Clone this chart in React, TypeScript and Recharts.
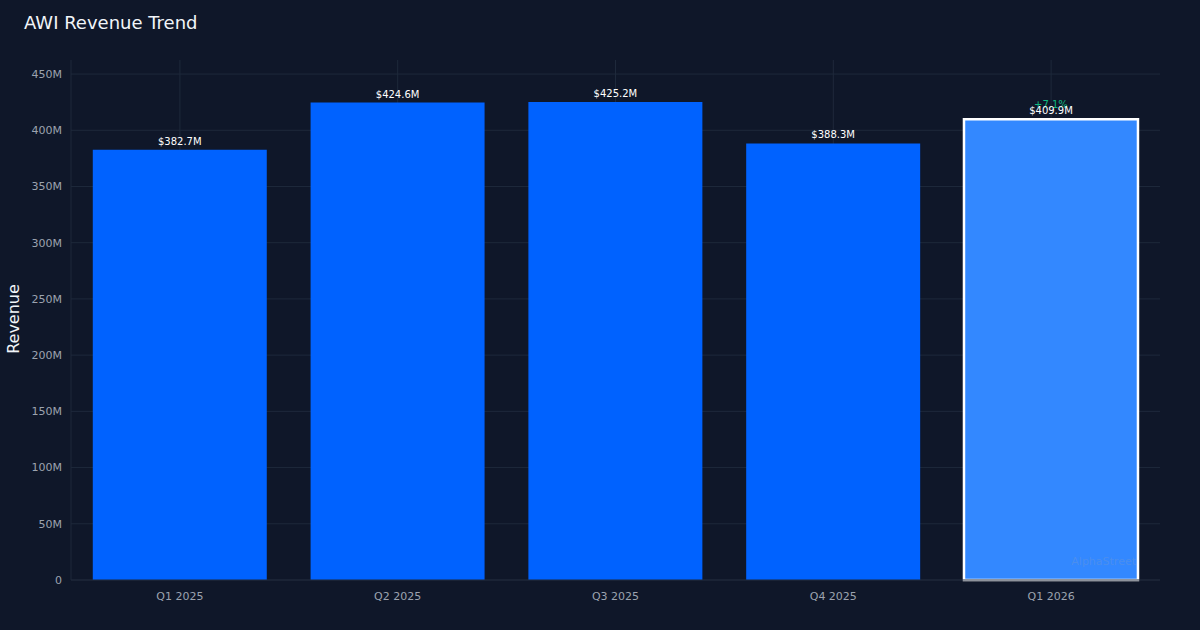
import React from 'react';
import { BarChart, Bar, XAxis, YAxis, CartesianGrid, Cell, LabelList } from 'recharts';

const categories = ['Q1 2025', 'Q2 2025', 'Q3 2025', 'Q4 2025', 'Q1 2026'];
const revenue = [382.7, 424.6, 425.2, 388.3, 409.9];
const yTicks = [0, 50, 100, 150, 200, 250, 300, 350, 400, 450];
const yMax = 462.5;
const highlightIndex = 4;
const changeLabel = '+7.1%';

const data = categories.map((q, i) => ({ q, v: revenue[i] }));

const BG = '#0f1729';
const GRID = '#1e293b';
const TICK = '#9ca3af';

const ValueLabel = (props: any) => {
  const { x, y, width, value, index } = props;
  const cx = x + width / 2;
  return (
    <g>
      {index === highlightIndex && (
        <text x={cx} y={y - 11} textAnchor="middle" fill="#10b981" fontSize={10} fontFamily="DejaVu Sans">
          {changeLabel}
        </text>
      )}
      <text x={cx} y={y - 5} textAnchor="middle" fill="#ffffff" fontSize={10} fontFamily="DejaVu Sans">
        {`$${Number(value).toFixed(1)}M`}
      </text>
    </g>
  );
};

const vGen = (p: any) => {
  const off = p.offset;
  return categories.map((_, i) => off.left + (off.width * (i + 0.5)) / categories.length);
};
const hGen = (p: any) => {
  const off = p.offset;
  return yTicks.map((t) => off.top + off.height * (1 - t / yMax));
};

export default function App() {
  return (
    <div style={{ position: 'absolute', left: 0, top: 0, width: 1200, height: 630, background: BG, fontFamily: 'DejaVu Sans' }}>
      <div style={{ position: 'absolute', left: 24, top: 12, color: '#f1f5f9', fontSize: 18, fontFamily: 'DejaVu Sans' }}>
        AWI Revenue Trend
      </div>
      <div
        style={{
          position: 'absolute',
          left: 13,
          top: 319,
          transform: 'translate(-50%, -50%) rotate(-90deg)',
          color: '#f1f5f9',
          fontSize: 16,
          fontFamily: 'DejaVu Sans',
          whiteSpace: 'nowrap',
        }}
      >
        Revenue
      </div>
      <BarChart
        width={1200}
        height={630}
        data={data}
        margin={{ top: 60, right: 40, bottom: 20, left: 1 }}
        barCategoryGap="10%"
      >
        <CartesianGrid
          stroke={GRID}
          strokeWidth={1}
          verticalCoordinatesGenerator={vGen}
          horizontalCoordinatesGenerator={hGen}
        />
        <XAxis
          dataKey="q"
          height={30}
          tickLine={false}
          axisLine={{ stroke: GRID }}
          tick={{ fill: TICK, fontSize: 11, fontFamily: 'DejaVu Sans' }}
          tickMargin={6}
        />
        <YAxis
          width={70}
          domain={[0, yMax]}
          ticks={yTicks}
          tickLine={false}
          axisLine={{ stroke: GRID }}
          tick={{ fill: TICK, fontSize: 11, fontFamily: 'DejaVu Sans' }}
          tickFormatter={(v: number) => (v === 0 ? '0' : `${v}M`)}
          tickMargin={3}
        />
        <Bar dataKey="v" isAnimationActive={false}>
          {data.map((d, i) => (
            <Cell
              key={d.q}
              fill={i === highlightIndex ? '#3388ff' : '#0062ff'}
              stroke={i === highlightIndex ? '#ffffff' : 'none'}
              strokeWidth={i === highlightIndex ? 2.5 : 0}
            />
          ))}
          <LabelList dataKey="v" content={ValueLabel} />
        </Bar>
      </BarChart>
      <div
        style={{
          position: 'absolute',
          right: 64,
          top: 555,
          color: 'rgba(148,163,184,0.25)',
          fontSize: 11,
          fontFamily: 'DejaVu Sans',
        }}
      >
        AlphaStreet
      </div>
    </div>
  );
}
